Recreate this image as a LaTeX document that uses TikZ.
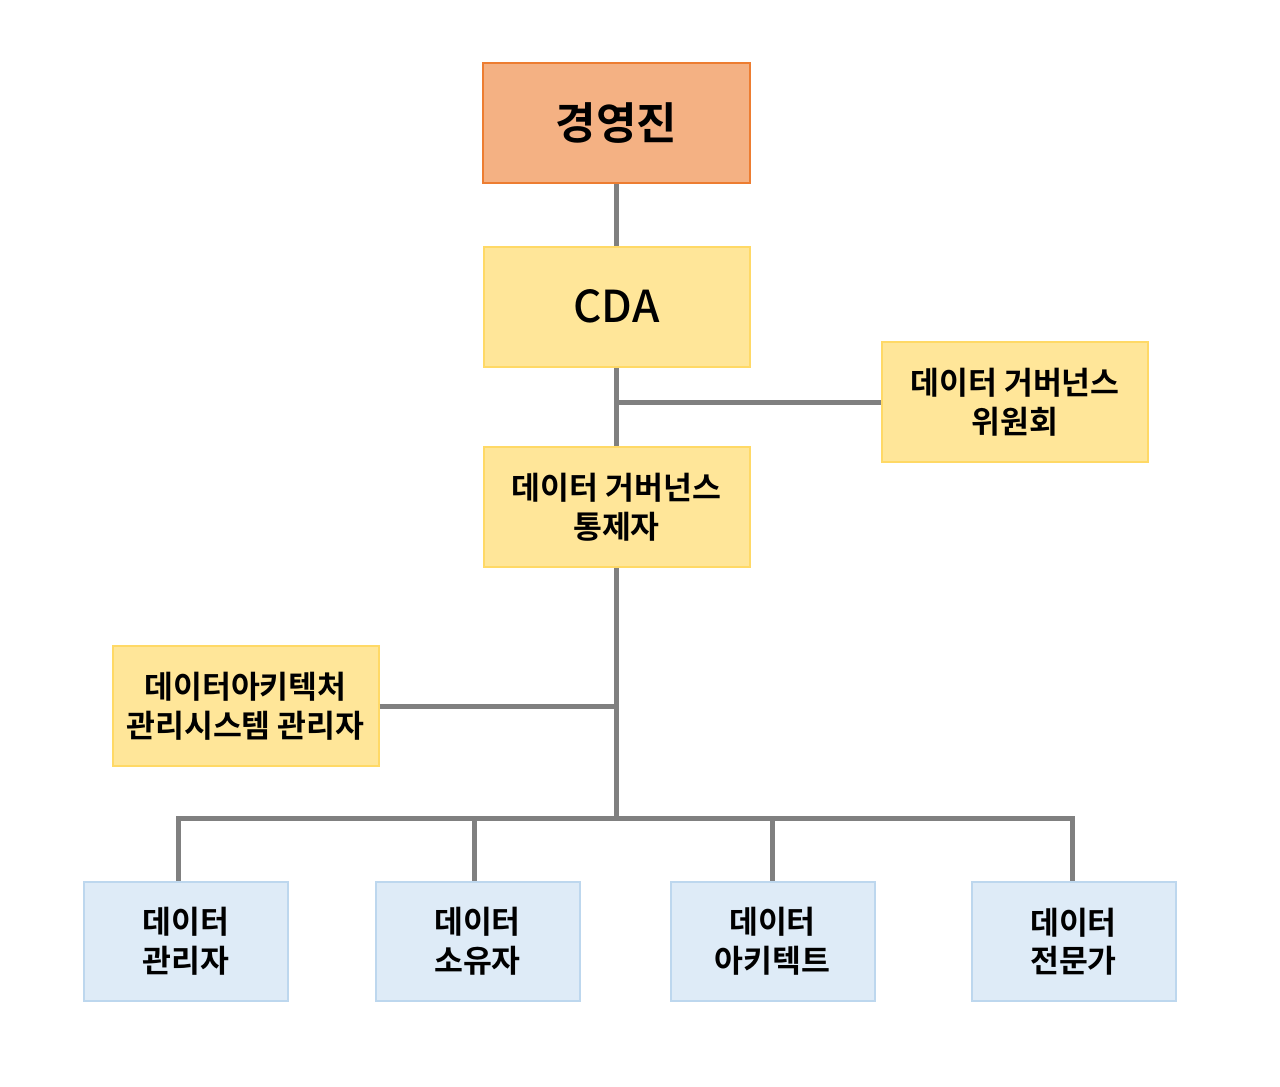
\documentclass[tikz,border=0pt]{standalone}
\usepackage{fontspec}
\setmainfont{Noto Sans CJK KR}
\newfontfamily\krbold{Noto Sans CJK KR Bold}
\newfontfamily\krmed{Noto Sans CJK KR Medium}
\definecolor{orfill}{HTML}{F4B183}
\definecolor{ordraw}{HTML}{ED7D31}
\definecolor{yefill}{HTML}{FFE699}
\definecolor{yedraw}{HTML}{FFD966}
\definecolor{blfill}{HTML}{DEEBF7}
\definecolor{bldraw}{HTML}{BDD7EE}
\definecolor{conn}{HTML}{808080}
\begin{document}
\begin{tikzpicture}[x=0.5pt,y=-0.5pt,
  box/.style={draw, line width=1pt, inner sep=0pt, align=center, text=black},
  topbox/.style={box, fill=orfill, draw=ordraw, minimum width=133.5pt, minimum height=60pt},
  yebox/.style={box, fill=yefill, draw=yedraw, minimum width=133pt, minimum height=60pt},
  blbox/.style={box, fill=blfill, draw=bldraw, minimum width=102pt, minimum height=59.5pt},
  lbl/.style={font=\krbold\fontsize{15.7}{19.3}\selectfont},
  line/.style={draw=conn, line width=2.5pt}]
\useasboundingbox (0,0) rectangle (1280,1087);
\node[topbox, font=\krbold\fontsize{22}{26}\selectfont] (top) at (616.5,123) {경영진};
\node[yebox, font=\krmed\fontsize{22}{26}\selectfont] (cda) at (616.5,307) {\raisebox{1.5pt}{CDA}};
\node[yebox, lbl] (com) at (1015,402) {데이터 거버넌스\\위원회};
\node[yebox, lbl] (ctrl) at (616.5,507) {데이터 거버넌스\\통제자};
\node[yebox, lbl] (das) at (245.5,706) {데이터아키텍처\\관리시스템 관리자};
\node[blbox, lbl] (b1) at (186,941.5) {데이터\\관리자};
\node[blbox, lbl] (b2) at (477.5,941.5) {데이터\\소유자};
\node[blbox, lbl] (b3) at (772.5,941.5) {데이터\\아키텍트};
\node[blbox, lbl] (b4) at (1073.5,941.5) {데이터\\전문가};
\coordinate (bus) at (616.5,818);
\coordinate (d1) at (178,818);
\coordinate (d2) at (474,818);
\coordinate (d3) at (772,818);
\coordinate (d4) at (1072,818);
\draw[line] (top.south) -- (cda.north);
\draw[line] (com.west) -- (com.west -| cda.south);
\draw[line] (das.east) -- (das.east -| ctrl.south);
\draw[line] (cda.south) -- (ctrl.north);
\draw[line] (ctrl.south) -- (bus);
\draw[line, line cap=rect] (d1) -- (d4);
\draw[line] (d1) -- (d1 |- b1.north);
\draw[line] (d2) -- (d2 |- b2.north);
\draw[line] (d3) -- (d3 |- b3.north);
\draw[line] (d4) -- (d4 |- b4.north);
\end{tikzpicture}
\end{document}
